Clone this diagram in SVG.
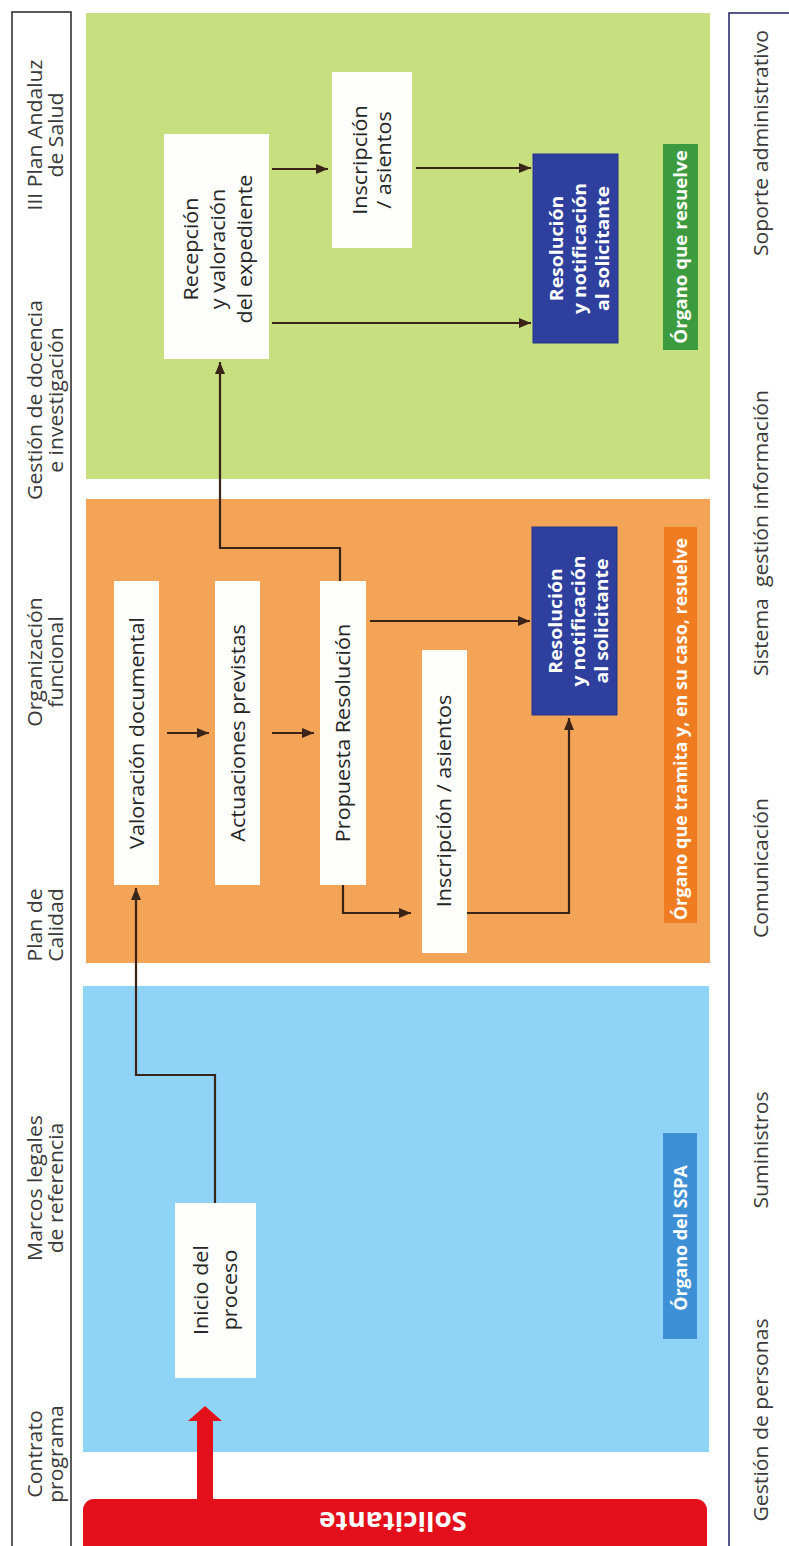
<svg xmlns="http://www.w3.org/2000/svg" width="789" height="1546" viewBox="0 0 789 1546">
  <style>
    text { font-family: "Open Sans", "Noto Sans", "Liberation Sans", sans-serif; text-anchor: middle; }
    .hdr { font-size: 20px; fill: #3a3a3a; }
    .box { font-size: 20px; fill: #262626; }
    .res { font-size: 18px; font-weight: bold; fill: #ffffff; }
    .lbl { font-size: 17px; font-weight: bold; fill: #ffffff; }
    .sol { font-size: 26px; font-weight: bold; fill: #ffffff; }
    .node { fill: #fdfdfb; }
    .resbox { fill: #2e3f9e; stroke: #27358a; stroke-width: 1; }
    .wire { fill: none; stroke: #3a2418; stroke-width: 2.2; }
  </style>
  <defs>
    <marker id="ah" viewBox="0 0 12 10" refX="12" refY="5" markerWidth="12" markerHeight="10" orient="auto" markerUnits="userSpaceOnUse">
      <path d="M0,0 L12,5 L0,10 z" fill="#3a2418"/>
    </marker>
  </defs>

  <rect width="789" height="1546" fill="#ffffff"/>

  <!-- framing strips -->
  <g id="frame-left">
    <rect x="12" y="12" width="59" height="1600" fill="none" stroke="#333" stroke-width="1.6"/>
    <text class="hdr" transform="translate(0,135) rotate(-90) scale(1.06,1)"><tspan x="0" y="42">III Plan Andaluz</tspan><tspan x="0" y="63">de Salud</tspan></text>
    <text class="hdr" transform="translate(0,400) rotate(-90) scale(1.06,1)"><tspan x="0" y="42">Gestión de docencia</tspan><tspan x="0" y="63">e investigación</tspan></text>
    <text class="hdr" transform="translate(0,662) rotate(-90) scale(1.06,1)"><tspan x="0" y="42">Organización</tspan><tspan x="0" y="63">funcional</tspan></text>
    <text class="hdr" transform="translate(0,925) rotate(-90) scale(1.06,1)"><tspan x="0" y="42">Plan de</tspan><tspan x="0" y="63">Calidad</tspan></text>
    <text class="hdr" transform="translate(0,1188) rotate(-90) scale(1.06,1)"><tspan x="0" y="42">Marcos legales</tspan><tspan x="0" y="63">de referencia</tspan></text>
    <text class="hdr" transform="translate(0,1454) rotate(-90) scale(1.06,1)"><tspan x="0" y="42">Contrato</tspan><tspan x="0" y="63">programa</tspan></text>
  </g>

  <g id="frame-right">
    <rect x="729" y="13" width="100" height="1600" fill="none" stroke="#2b2f6b" stroke-width="1.6"/>
    <text class="hdr" transform="translate(0,143) rotate(-90) scale(1.06,1)" x="0" y="768">Soporte administrativo</text>
    <text class="hdr" xml:space="preserve" transform="translate(0,533) rotate(-90) scale(1.06,1)" x="0" y="768">Sistema  gestión información</text>
    <text class="hdr" transform="translate(0,868) rotate(-90) scale(1.06,1)" x="0" y="768">Comunicación</text>
    <text class="hdr" transform="translate(0,1150) rotate(-90) scale(1.06,1)" x="0" y="768">Suministros</text>
    <text class="hdr" transform="translate(0,1420) rotate(-90) scale(1.06,1)" x="0" y="768">Gestión de personas</text>
  </g>

  <!-- lanes -->
  <g id="lane-resuelve">
    <rect x="86" y="13" width="624" height="466" fill="#c8df80"/>
    <rect x="663" y="144" width="35" height="206" fill="#3b9b3e"/>
    <text class="lbl" transform="translate(0,247) rotate(-90) scale(1.1,1)" x="0" y="687">Órgano que resuelve</text>
  </g>
  <g id="lane-tramita">
    <rect x="86" y="499" width="624" height="464" fill="#f3a457"/>
    <rect x="664" y="527" width="33" height="396" fill="#f07c22"/>
    <text class="lbl" transform="translate(0,729) rotate(-90) scale(1.06,1)" x="0" y="687">Órgano que tramita y, en su caso, resuelve</text>
  </g>
  <g id="lane-sspa">
    <rect x="83" y="986" width="626" height="466" fill="#8fd3f6"/>
    <rect x="663" y="1133" width="34" height="206" fill="#3d8fd6"/>
    <text class="lbl" transform="translate(0,1238) rotate(-90) scale(1.05,1)" x="0" y="687">Órgano del SSPA</text>
  </g>

  <!-- process steps -->
  <g id="recepcion">
    <rect class="node" x="164" y="134" width="105" height="225"/>
    <text class="box" transform="translate(0,249) rotate(-90) scale(1.08,1)"><tspan x="0" y="198">Recepción</tspan><tspan x="0" y="225">y valoración</tspan><tspan x="0" y="252">del expediente</tspan></text>
  </g>
  <g id="inscripcion-resuelve">
    <rect class="node" x="332" y="72" width="80" height="176"/>
    <text class="box" transform="translate(0,160) rotate(-90) scale(1.08,1)"><tspan x="0" y="367">Inscripción</tspan><tspan x="0" y="391">/ asientos</tspan></text>
  </g>
  <g id="resolucion-resuelve">
    <rect class="resbox" x="533" y="154" width="85" height="189"/>
    <text class="res" transform="translate(0,248.5) rotate(-90) scale(1.08,1)"><tspan x="0" y="563">Resolución</tspan><tspan x="0" y="586">y notificación</tspan><tspan x="0" y="609">al solicitante</tspan></text>
  </g>
  <g id="valoracion">
    <rect class="node" x="114" y="581" width="45" height="304"/>
    <text class="box" transform="translate(0,733) rotate(-90) scale(1.08,1)" x="0" y="144">Valoración documental</text>
  </g>
  <g id="actuaciones">
    <rect class="node" x="215" y="581" width="45" height="304"/>
    <text class="box" transform="translate(0,733) rotate(-90) scale(1.08,1)" x="0" y="245">Actuaciones previstas</text>
  </g>
  <g id="propuesta">
    <rect class="node" x="320" y="581" width="46" height="304"/>
    <text class="box" transform="translate(0,733) rotate(-90) scale(1.08,1)" x="0" y="350">Propuesta Resolución</text>
  </g>
  <g id="inscripcion-tramita">
    <rect class="node" x="422" y="650" width="45" height="303"/>
    <text class="box" transform="translate(0,801) rotate(-90) scale(1.08,1)" x="0" y="451">Inscripción / asientos</text>
  </g>
  <g id="resolucion-tramita">
    <rect class="resbox" x="532" y="527" width="85" height="188"/>
    <text class="res" transform="translate(0,621) rotate(-90) scale(1.08,1)"><tspan x="0" y="562">Resolución</tspan><tspan x="0" y="585">y notificación</tspan><tspan x="0" y="608">al solicitante</tspan></text>
  </g>
  <g id="inicio">
    <rect class="node" x="175" y="1203" width="81" height="175"/>
    <text class="box" transform="translate(0,1290) rotate(-90) scale(1.08,1)"><tspan x="0" y="208">Inicio del</tspan><tspan x="0" y="237">proceso</tspan></text>
  </g>
  <g id="solicitante">
    <rect x="83" y="1499" width="624" height="70" rx="11" fill="#e3101c"/>
    <text class="sol" transform="translate(393,1512) rotate(180) scale(1.07,1)" x="0" y="0">Solicitante</text>
  </g>

  <!-- connectors -->
  <g id="connectors">
    <path class="wire" marker-end="url(#ah)" d="M272,169 H328"/>
    <path class="wire" marker-end="url(#ah)" d="M272,323 H531"/>
    <path class="wire" marker-end="url(#ah)" d="M416,168 H531"/>
    <path class="wire" marker-end="url(#ah)" d="M340,581 V548 H220 V362"/>
    <path class="wire" marker-end="url(#ah)" d="M167,733 H209"/>
    <path class="wire" marker-end="url(#ah)" d="M272,733 H314"/>
    <path class="wire" marker-end="url(#ah)" d="M370,621 H530"/>
    <path class="wire" marker-end="url(#ah)" d="M343,885 V913 H411"/>
    <path class="wire" marker-end="url(#ah)" d="M467,913 H569 V718"/>
    <path class="wire" marker-end="url(#ah)" d="M215,1203 V1075 H136 V888"/>
    <path d="M197,1500 V1421 H188 L205,1406 L222,1421 H213 V1500 Z" fill="#e3101c"/>
  </g>
</svg>
